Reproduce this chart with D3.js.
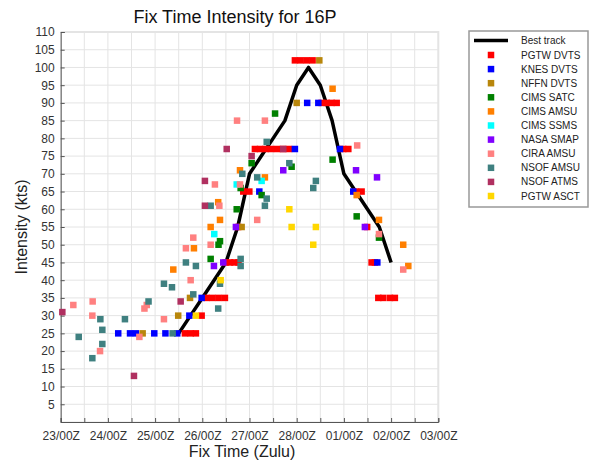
<!DOCTYPE html>
<html>
<head>
<meta charset="utf-8">
<script src="https://cdn.jsdelivr.net/npm/d3@7"></script>
<style>
  body { margin: 0; background: #fff; }
  svg { font-family: "Liberation Sans", Arial, sans-serif; }
</style>
</head>
<body>
<svg id="chart" width="594" height="463"></svg>
<script>
// best track (time, kts)
var bestTime = ["02-25 12:00", "02-25 18:00", "02-26 00:00", "02-26 06:00", "02-26 12:00", "02-26 18:00",
    "02-27 00:00", "02-27 06:00", "02-27 12:00", "02-27 18:00", "02-28 00:00", "02-28 06:00",
    "02-28 12:00", "02-28 18:00", "03-01 00:00", "03-01 06:00", "03-01 12:00", "03-01 18:00", "03-02 00:00"];
var bestKts = [25, 30, 35, 40, 45, 55, 70, 75, 80, 85, 95, 100, 95, 85, 70, 65, 60, 55, 45];

// fixes per agency: [time, kts]
var pgtwDvts = [["02-25 15:10", 25], ["02-25 18:05", 25], ["02-25 20:45", 25], ["02-25 23:40", 30],
    ["02-26 02:15", 35], ["02-26 05:15", 35], ["02-26 08:20", 35], ["02-26 11:30", 35],
    ["02-26 11:50", 45], ["02-26 14:05", 45], ["02-26 16:20", 45], ["02-26 18:25", 45],
    ["02-26 18:15", 55], ["02-26 20:50", 65], ["02-26 23:55", 65],
    ["02-27 02:45", 77], ["02-27 05:20", 77], ["02-27 08:05", 77], ["02-27 10:55", 77],
    ["02-27 14:00", 77], ["02-27 17:00", 77], ["02-27 20:05", 77],
    ["02-27 23:05", 102], ["02-28 02:00", 102], ["02-28 05:05", 102], ["02-28 08:05", 102],
    ["02-28 12:40", 90], ["02-28 15:15", 90], ["02-28 17:45", 90], ["02-28 20:20", 90],
    ["02-28 23:40", 77], ["03-01 02:15", 77], ["03-01 06:10", 65], ["03-01 09:00", 65],
    ["03-01 11:50", 55], ["03-01 14:05", 45], ["03-01 15:45", 45],
    ["03-01 17:30", 35], ["03-01 20:00", 35], ["03-01 23:25", 35], ["03-02 01:55", 35]];
var knesDvts = [["02-24 05:15", 25], ["02-24 11:15", 25], ["02-24 14:15", 25], ["02-24 23:35", 25],
    ["02-25 05:15", 25], ["02-25 11:15", 25], ["02-25 17:25", 30], ["02-25 23:40", 35],
    ["02-27 05:00", 65], ["02-27 23:05", 77], ["02-28 05:20", 90], ["02-28 11:00", 90],
    ["02-28 22:00", 77], ["03-01 04:45", 65], ["03-01 17:00", 45]];
var nffnDvts = [["02-24 17:40", 25], ["02-25 11:45", 30], ["02-25 17:45", 35], ["02-26 20:00", 55],
    ["02-28 00:00", 90], ["02-28 11:30", 102]];
var cimsSatc = [["02-26 04:15", 46], ["02-26 08:15", 50], ["02-26 09:00", 51], ["02-26 17:30", 60],
    ["02-26 19:30", 66], ["02-27 01:05", 73], ["02-27 06:10", 64], ["02-27 13:00", 87],
    ["02-27 21:25", 72], ["02-28 18:15", 74], ["03-01 06:30", 58], ["03-01 17:50", 52]];
var cimsAmsu = [["02-25 09:15", 43], ["02-25 19:45", 49], ["02-26 04:15", 55], ["02-26 09:00", 57],
    ["02-26 08:05", 62], ["02-26 19:10", 71], ["02-27 07:50", 69], ["02-28 18:15", 94],
    ["03-01 06:30", 64], ["03-01 17:50", 57], ["03-02 06:10", 50], ["03-02 08:45", 44]];
var cimsSsms = [["02-26 06:05", 53], ["02-26 17:30", 67], ["02-27 06:10", 68]];
var nasaSmap = [["02-26 05:55", 44], ["02-26 10:40", 45], ["02-26 17:05", 55], ["02-27 17:10", 71],
    ["03-01 06:10", 71], ["03-01 10:40", 55], ["03-01 16:50", 69]];
var ciraAmsu = [["02-23 06:25", 33], ["02-23 16:15", 34], ["02-23 16:05", 30], ["02-23 20:00", 20],
    ["02-24 16:00", 24], ["02-24 18:35", 32], ["02-24 19:45", 33], ["02-25 04:30", 29],
    ["02-25 18:05", 40], ["02-25 15:40", 49], ["02-25 19:25", 52], ["02-26 04:15", 50],
    ["02-26 06:25", 67], ["02-26 08:40", 61], ["02-26 19:10", 67], ["02-26 17:40", 85],
    ["02-27 03:55", 57], ["02-27 07:50", 85], ["03-01 06:45", 78], ["03-01 17:50", 53],
    ["03-02 06:10", 43]];
var nsofAmsu = [["02-23 09:10", 24], ["02-23 16:05", 18], ["02-23 20:10", 29], ["02-23 21:10", 26],
    ["02-23 21:10", 22], ["02-24 08:40", 29], ["02-24 20:40", 34], ["02-25 04:30", 39],
    ["02-25 08:35", 38], ["02-25 08:55", 25], ["02-25 15:40", 45], ["02-25 20:45", 44],
    ["02-25 19:25", 36], ["02-26 04:15", 61], ["02-26 08:05", 32], ["02-26 09:00", 39],
    ["02-26 19:30", 46], ["02-26 19:30", 44], ["02-26 20:20", 70], ["02-27 03:55", 69],
    ["02-27 07:50", 61], ["02-27 08:45", 63], ["02-27 08:45", 79], ["02-27 20:15", 73],
    ["02-28 09:45", 68], ["02-28 08:25", 66]];
var nsofAtms = [["02-23 00:50", 31], ["02-24 13:15", 13], ["02-25 13:00", 34], ["02-26 01:20", 68],
    ["02-26 01:20", 61], ["02-26 12:25", 77], ["02-27 01:05", 75], ["02-27 17:10", 77]];
var pgtwAsct = [["02-25 20:45", 30], ["02-26 09:20", 40], ["02-27 20:15", 60], ["02-27 21:25", 55],
    ["02-28 09:45", 55], ["02-28 08:25", 50]];

var sourceNames = ["PGTW DVTS", "KNES DVTS", "NFFN DVTS", "CIMS SATC", "CIMS AMSU", "CIMS SSMS",
    "NASA SMAP", "CIRA AMSU", "NSOF AMSU", "NSOF ATMS", "PGTW ASCT"];
var sourceData = [pgtwDvts, knesDvts, nffnDvts, cimsSatc, cimsAmsu, cimsSsms,
    nasaSmap, ciraAmsu, nsofAmsu, nsofAtms, pgtwAsct];
var sourceColors = ["#ff0000", "#0000ff", "#b8860b", "#008000", "#ff7f00", "#00ffff",
    "#8000ff", "#ff8080", "#3f8080", "#b03060", "#ffd700"];

var parseTime = d3.utcParse("%Y-%m-%d %H:%M");
function toDate(s) { return parseTime("2019-" + s); }

var svg = d3.select('#chart');
svg.append('rect').attr('width', 594).attr('height', 463).attr('fill', '#fff');

var plotLeft = 60.7, plotRight = 438.3, plotTop = 32, plotBottom = 422;

var x = d3.scaleUtc()
    .domain([toDate("02-23 00:00"), toDate("03-03 00:00")])
    .range([plotLeft, plotRight]);
var y = d3.scaleLinear()
    .domain([0, 110])
    .range([plotBottom, plotTop]);

var xTicks = d3.utcHour.every(12).range(x.domain()[0], d3.utcHour.offset(x.domain()[1], 1));
var yTicks = d3.range(0, 111, 5);

// grid
var grid = svg.append('g').attr('stroke', '#e4e4e4').attr('stroke-width', 1);
grid.selectAll('.vg').data(xTicks).enter().append('line')
    .attr('x1', function (d) { return x(d); }).attr('x2', function (d) { return x(d); })
    .attr('y1', plotTop).attr('y2', plotBottom);
grid.selectAll('.hg').data(yTicks).enter().append('line')
    .attr('x1', plotLeft).attr('x2', plotRight)
    .attr('y1', function (d) { return y(d); }).attr('y2', function (d) { return y(d); });
// light right/top frame
svg.append('path')
    .attr('d', 'M' + plotLeft + ',' + plotTop + 'H' + plotRight + 'V' + plotBottom)
    .attr('fill', 'none').attr('stroke', '#e4e4e4').attr('stroke-width', 2);

// axes
var fmt = d3.utcFormat("%d/%HZ");
var xAxis = d3.axisBottom(x)
    .tickValues(xTicks)
    .tickSize(-4)
    .tickPadding(9)
    .tickFormat(function (d) { return d.getUTCHours() === 0 ? fmt(d) : ''; });
var gx = svg.append('g').attr('transform', 'translate(0,' + plotBottom + ')').call(xAxis);

var yAxis = d3.axisLeft(y)
    .tickValues(yTicks)
    .tickSize(-4)
    .tickPadding(6)
    .tickFormat(function (d) { return d === 0 ? '' : d; });
var gy = svg.append('g').attr('transform', 'translate(' + plotLeft + ',0)').call(yAxis);

[gx, gy].forEach(function (g) {
    g.select('.domain').attr('stroke', '#555');
    g.selectAll('.tick line').attr('stroke', '#555');
    g.selectAll('.tick text')
        .attr('font-family', '"Liberation Sans", Arial, sans-serif')
        .attr('font-size', 12).attr('fill', '#333');
});

// best track
var line = d3.line()
    .x(function (d) { return x(toDate(d[0])); })
    .y(function (d) { return y(d[1]); });
svg.append('path')
    .datum(bestTime.map(function (t, i) { return [t, bestKts[i]]; }))
    .attr('d', line)
    .attr('fill', 'none')
    .attr('stroke', '#000')
    .attr('stroke-width', 3.5)
    .attr('stroke-linejoin', 'round');

// fixes
var ms = 6.5;
sourceData.forEach(function (data, i) {
    svg.append('g').selectAll('rect').data(data).enter().append('rect')
        .attr('x', function (d) { return x(toDate(d[0])) - ms / 2; })
        .attr('y', function (d) { return y(d[1]) - ms / 2; })
        .attr('width', ms).attr('height', ms)
        .attr('fill', sourceColors[i]);
});

// title and labels
svg.append('text')
    .attr('x', 235).attr('y', 23)
    .attr('text-anchor', 'middle')
    .attr('font-size', 18).attr('fill', '#111')
    .text('Fix Time Intensity for 16P');
svg.append('text')
    .attr('x', 242).attr('y', 457)
    .attr('text-anchor', 'middle')
    .attr('font-size', 16).attr('fill', '#222')
    .text('Fix Time (Zulu)');
svg.append('text')
    .attr('transform', 'translate(27,' + ((plotTop + plotBottom) / 2) + ') rotate(-90)')
    .attr('text-anchor', 'middle')
    .attr('font-size', 16).attr('fill', '#222')
    .text('Intensity (kts)');

// legend
var lg = svg.append('g').attr('transform', 'translate(469,31)');
lg.append('rect').attr('width', 119).attr('height', 176)
    .attr('fill', '#fff').attr('stroke', '#999').attr('stroke-width', 1.5);
lg.append('line').attr('x1', 5).attr('x2', 39).attr('y1', 9.5).attr('y2', 9.5)
    .attr('stroke', '#000').attr('stroke-width', 3.5);
lg.append('text').attr('x', 52).attr('y', 13).attr('font-size', 10).attr('fill', '#222').text('Best track');
sourceNames.forEach(function (name, i) {
    var ry = 24 + i * 14.1;
    lg.append('rect').attr('x', 22 - ms / 2).attr('y', ry - ms / 2)
        .attr('width', ms).attr('height', ms).attr('fill', sourceColors[i]);
    lg.append('text').attr('x', 52).attr('y', ry + 3.5)
        .attr('font-size', 10).attr('fill', '#222').text(name);
});
</script>
</body>
</html>
